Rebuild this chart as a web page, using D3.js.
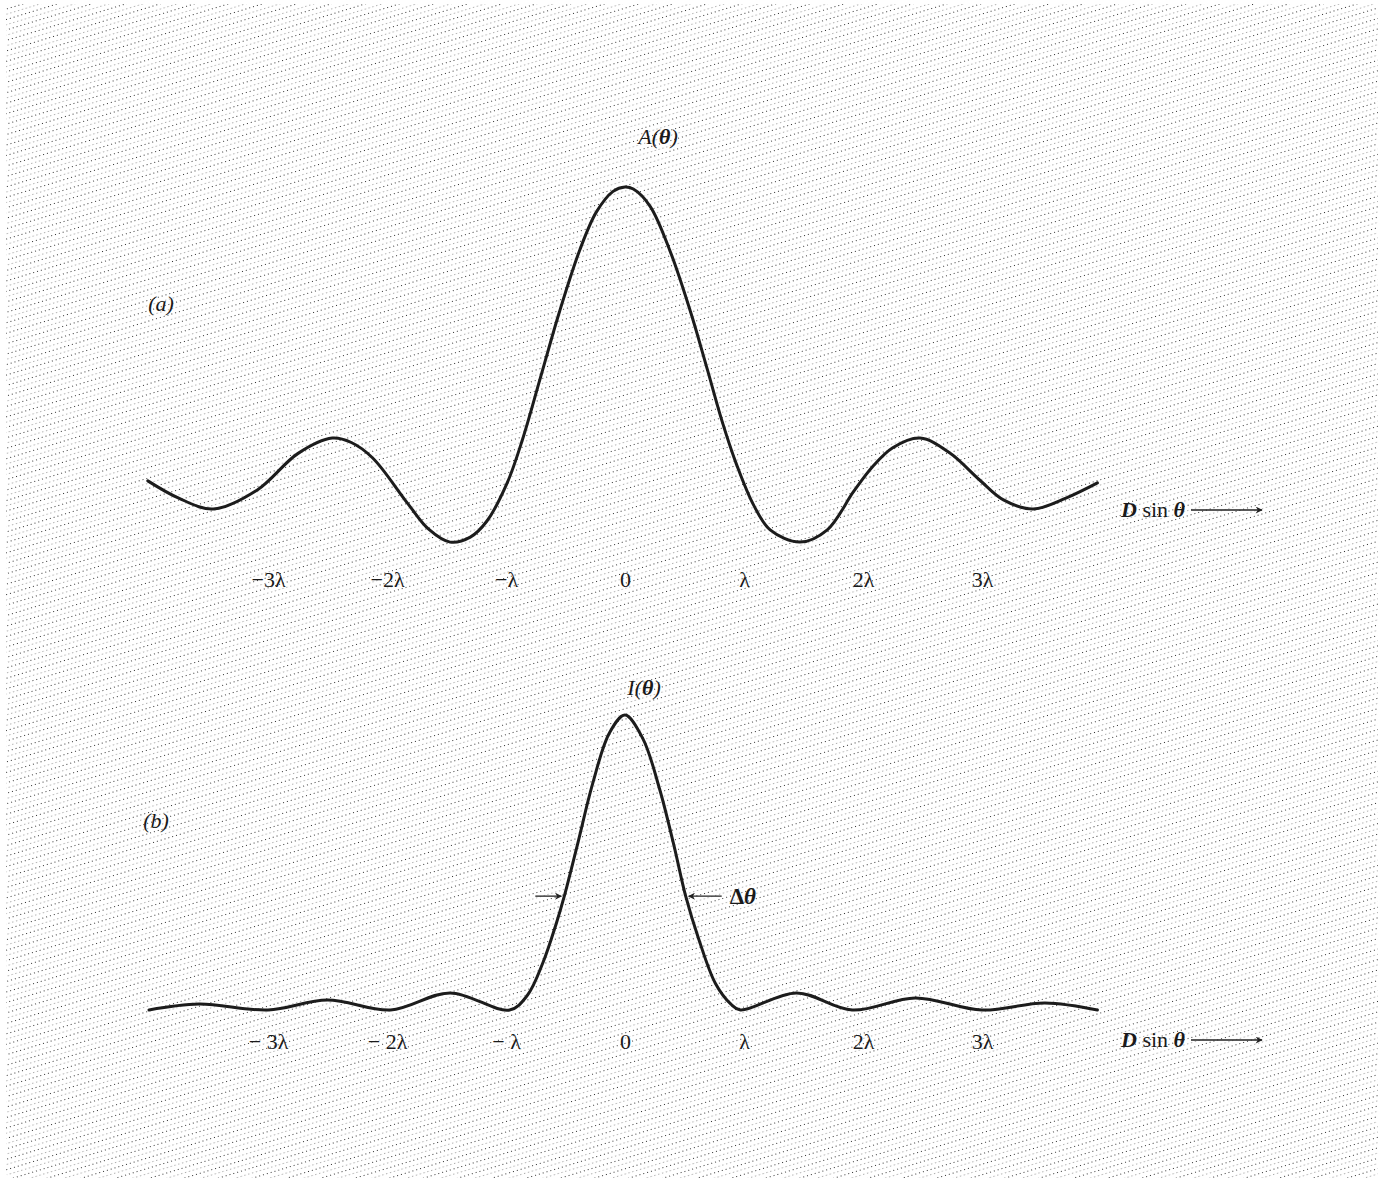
<!DOCTYPE html>
<html>
<head>
<meta charset="utf-8">
<script src="https://cdn.jsdelivr.net/npm/d3@7"></script>
<style>
  body { margin: 0; background: #fff; }
  svg text { font-family: "Liberation Serif", "DejaVu Serif", serif; fill: #1a1a1a; }
</style>
</head>
<body>
<svg width="1382" height="1182"></svg>
<script>
// positions along the axis in units of lambda, values relative to the central peak
const ampU = [-4.01, -3.75, -3.46, -3.09, -2.75, -2.46, -2.30, -2.12, -1.83, -1.65, -1.47, -1.30, -1.16, -0.99, -0.86, -0.71, -0.55, -0.38, -0.24, -0.10, 0,
              0.07, 0.21, 0.38, 0.55, 0.69, 0.82, 0.94, 1.08, 1.22, 1.47, 1.70, 1.92, 2.08, 2.25, 2.48, 2.73, 2.98, 3.18, 3.43, 3.71, 3.97];
const ampV = [-0.003, -0.062, -0.099, -0.034, 0.09, 0.143, 0.128, 0.075, -0.078, -0.168, -0.212, -0.195, -0.140, -0.01, 0.14, 0.35, 0.575, 0.785, 0.915, 0.985, 1.0,
              0.993, 0.935, 0.78, 0.575, 0.38, 0.195, 0.05, -0.085, -0.17, -0.212, -0.17, -0.04, 0.045, 0.11, 0.143, 0.092, 0.0, -0.068, -0.099, -0.061, -0.010];

const intU = [-4.00, -3.58, -3.00, -2.50, -1.97, -1.47, -0.97, -0.82, -0.69, -0.58, -0.51, -0.40, -0.27, -0.13, 0,
              0.15, 0.29, 0.41, 0.51, 0.62, 0.76, 0.89, 0.97, 1.44, 1.91, 2.44, 3.00, 3.53, 3.97];
const intV = [0.0, 0.02, 0.0, 0.034, 0.0, 0.058, 0.0, 0.05, 0.16, 0.29, 0.386, 0.56, 0.77, 0.94, 1.0,
              0.92, 0.75, 0.56, 0.386, 0.24, 0.09, 0.02, 0.0, 0.058, 0.0, 0.041, 0.0, 0.024, 0.0];

const tickValues = [-3, -2, -1, 0, 1, 2, 3];
const tickLabelsA = ["\u22123\u03bb", "\u22122\u03bb", "\u2212\u03bb", "0", "\u03bb", "2\u03bb", "3\u03bb"];
const tickLabelsB = ["\u2212 3\u03bb", "\u2212 2\u03bb", "\u2212 \u03bb", "0", "\u03bb", "2\u03bb", "3\u03bb"];

// width marker on the intensity peak
const deltaLevel = 0.386;
const deltaU = [-0.51, 0.51];

const svg = d3.select('svg');
const W = +svg.attr('width'), H = +svg.attr('height');

// stippled paper background
const defs = svg.append('defs');
const pat = defs.append('pattern')
    .attr('id', 'stipple')
    .attr('patternUnits', 'userSpaceOnUse')
    .attr('width', 4).attr('height', 10)
    .attr('patternTransform', 'rotate(-17)');
pat.append('rect').attr('width', 4).attr('height', 10).attr('fill', '#ffffff');
pat.append('rect').attr('x', 0).attr('y', 0).attr('width', 1).attr('height', 1).attr('fill', '#333');
pat.append('rect').attr('x', 2).attr('y', 5).attr('width', 1.3).attr('height', 1).attr('fill', '#aaa');

defs.append('marker')
    .attr('id', 'head')
    .attr('viewBox', '0 0 10 10')
    .attr('refX', 9).attr('refY', 5)
    .attr('markerWidth', 11).attr('markerHeight', 7)
    .attr('markerUnits', 'userSpaceOnUse')
    .attr('orient', 'auto')
    .append('path')
    .attr('d', 'M0,0 L10,5 L0,10 L3,5 Z')
    .attr('fill', '#222');

svg.append('rect')
    .attr('x', 6).attr('y', 4)
    .attr('width', W - 10).attr('height', H - 8)
    .attr('rx', 6)
    .attr('fill', 'url(#stipple)');

const x = d3.scaleLinear().domain([-4, 4]).range([625 - 4 * 119, 625 + 4 * 119]);
const yA = d3.scaleLinear().domain([0, 1]).range([480, 187]);
const yB = d3.scaleLinear().domain([0, 1]).range([1010, 715]);

const ampData = ampU.map((u, i) => ({ u: u, v: ampV[i] }));
const intData = intU.map((u, i) => ({ u: u, v: intV[i] }));

function drawCurve(data, y) {
    const line = d3.line()
        .curve(d3.curveCatmullRom.alpha(0.5))
        .x(d => x(d.u))
        .y(d => y(d.v));
    svg.append('path')
        .datum(data)
        .attr('fill', 'none')
        .attr('stroke', '#1c1c1c')
        .attr('stroke-width', 3)
        .attr('stroke-linecap', 'round')
        .attr('d', line);
}
drawCurve(ampData, yA);
drawCurve(intData, yB);

function drawAxis(yPos, labels) {
    const axis = d3.axisBottom(x)
        .tickValues(tickValues)
        .tickSize(0)
        .tickPadding(0)
        .tickFormat((d, i) => labels[i]);
    const g = svg.append('g')
        .attr('transform', `translate(0,${yPos})`)
        .call(axis);
    g.select('.domain').remove();
    g.selectAll('.tick text')
        .attr('fill', '#1a1a1a')
        .style('font-family', '"Liberation Serif", serif')
        .style('font-size', '22px');
}
drawAxis(571, tickLabelsA);
drawAxis(1033, tickLabelsB);

// "D sin θ ——>" axis names
function axisName(yMid) {
    const t = svg.append('text')
        .attr('x', 1121).attr('y', yMid + 7)
        .style('font-size', '22px');
    t.append('tspan').text('D').style('font-style', 'italic').style('font-weight', 'bold');
    t.append('tspan').text(' sin ');
    t.append('tspan').text('\u03b8').style('font-style', 'italic').style('font-weight', 'bold');
    svg.append('line')
        .attr('x1', 1191).attr('x2', 1262)
        .attr('y1', yMid).attr('y2', yMid)
        .attr('stroke', '#222').attr('stroke-width', 1.4)
        .attr('marker-end', 'url(#head)');
}
axisName(yA(0) + 30);
axisName(yB(0) + 30);

// curve titles
function title(txt, xc, yc) {
    const t = svg.append('text')
        .attr('x', xc).attr('y', yc)
        .attr('text-anchor', 'middle')
        .style('font-size', '22px')
        .style('font-style', 'italic');
    t.append('tspan').text(txt);
    t.append('tspan').text('(');
    t.append('tspan').text('\u03b8').style('font-weight', 'bold');
    t.append('tspan').text(')');
}
title('A', 658, 144);
title('I', 644, 695);

svg.append('text').attr('x', 161).attr('y', 311)
    .attr('text-anchor', 'middle')
    .style('font-size', '22px').style('font-style', 'italic').text('(a)');
svg.append('text').attr('x', 156).attr('y', 828)
    .attr('text-anchor', 'middle')
    .style('font-size', '22px').style('font-style', 'italic').text('(b)');

// Δθ width arrows
const yD = yB(deltaLevel);
svg.append('line')
    .attr('x1', x(deltaU[0]) - 29).attr('x2', x(deltaU[0]) - 3)
    .attr('y1', yD).attr('y2', yD)
    .attr('stroke', '#222').attr('stroke-width', 1.3)
    .attr('marker-end', 'url(#head)');
svg.append('line')
    .attr('x1', x(deltaU[1]) + 36).attr('x2', x(deltaU[1]) + 3)
    .attr('y1', yD).attr('y2', yD)
    .attr('stroke', '#222').attr('stroke-width', 1.3)
    .attr('marker-end', 'url(#head)');
const dt = svg.append('text')
    .attr('x', x(deltaU[1]) + 44).attr('y', yD + 8)
    .style('font-size', '23px');
dt.append('tspan').text('\u0394').style('font-weight', 'bold');
dt.append('tspan').text('\u03b8').style('font-style', 'italic').style('font-weight', 'bold');
</script>
</body>
</html>
